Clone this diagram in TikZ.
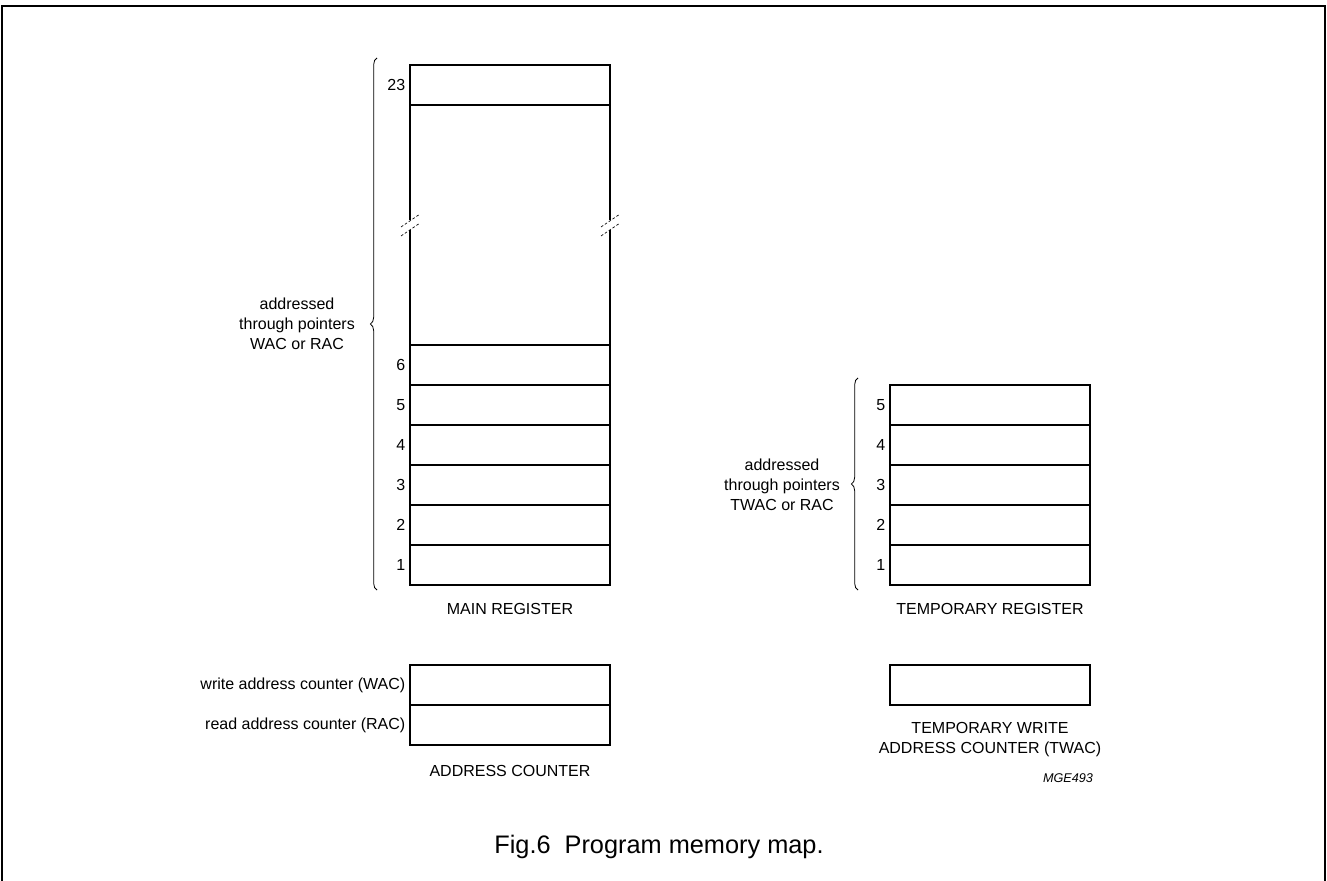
\documentclass[tikz,border=0pt]{standalone}
\usepackage{fontspec}
\setmainfont{Liberation Sans}
\usetikzlibrary{positioning,decorations.pathreplacing}

\begin{document}
\begin{tikzpicture}[x=0.75pt,y=-0.75pt,
        cell/.style={draw,line width=0.8pt,minimum width=150pt,minimum height=30pt,inner sep=0pt,outer sep=0pt},
        lbl/.style={font=\fontsize{12}{15}\selectfont},
        brc/.style={decorate,decoration={brace,amplitude=5pt},line width=0.6pt}]
        \useasboundingbox (0,0) rectangle (1327,881);
        \draw[line width=1pt] (2,895) -- (2,6) -- (1325,6) -- (1325,895);
        % main register
        \node[cell] (m23) at (510,85) {};
        \node[lbl,left=0pt of m23] {23};
        \foreach \i in {1,...,6} {
            \node[cell] (m\i) at (510,{605-40*\i}) {};
            \node[lbl,left=0pt of m\i] {\i};
        }
        \foreach \x in {410,610} {
            \draw[line width=0.8pt] (\x,105) -- (\x,220);
            \draw[line width=0.8pt] (\x,230) -- (\x,345);
            \draw[dashed,line width=0.5pt,dash pattern=on 2pt off 1.5pt] (\x-9,227) -- (\x+10,214);
            \draw[dashed,line width=0.5pt,dash pattern=on 2pt off 1.5pt] (\x-9,236) -- (\x+10,223);
        }
        \draw[brc] (377,590) -- (377,58);
        \node[lbl,align=center] (mnote) at (297,324) {addressed\\through pointers\\WAC or RAC};
        \node[lbl] (mname) at (510,609) {MAIN REGISTER};
        % address counter
        \node[cell] (wac) at (510,685) {};
        \node[cell] (rac) at (510,725) {};
        \node[lbl,left=0pt of wac] {write address counter (WAC)};
        \node[lbl,left=0pt of rac] {read address counter (RAC)};
        \node[lbl] (acname) at (510,771) {ADDRESS COUNTER};
        % temporary register
        \foreach \i in {1,...,5} {
            \node[cell] (t\i) at (990,{605-40*\i}) {};
            \node[lbl,left=0pt of t\i] {\i};
        }
        \draw[brc] (858,590) -- (858,378);
        \node[lbl,align=center] (tnote) at (782,485) {addressed\\through pointers\\TWAC or RAC};
        \node[lbl] (tname) at (990,609) {TEMPORARY REGISTER};
        \node[cell] (twac) at (990,685) {};
        \node[lbl,align=center] (twname) at (990,740) {TEMPORARY WRITE\\ADDRESS COUNTER (TWAC)};
        \node[font=\fontsize{9.5}{11}\selectfont\itshape] (code) at (1068,778) {MGE493};
        \node[font=\fontsize{19}{23}\selectfont] (cap) at (659,847) {Fig.6\hspace{0.55em}Program memory map.};
\end{tikzpicture}
\end{document}
